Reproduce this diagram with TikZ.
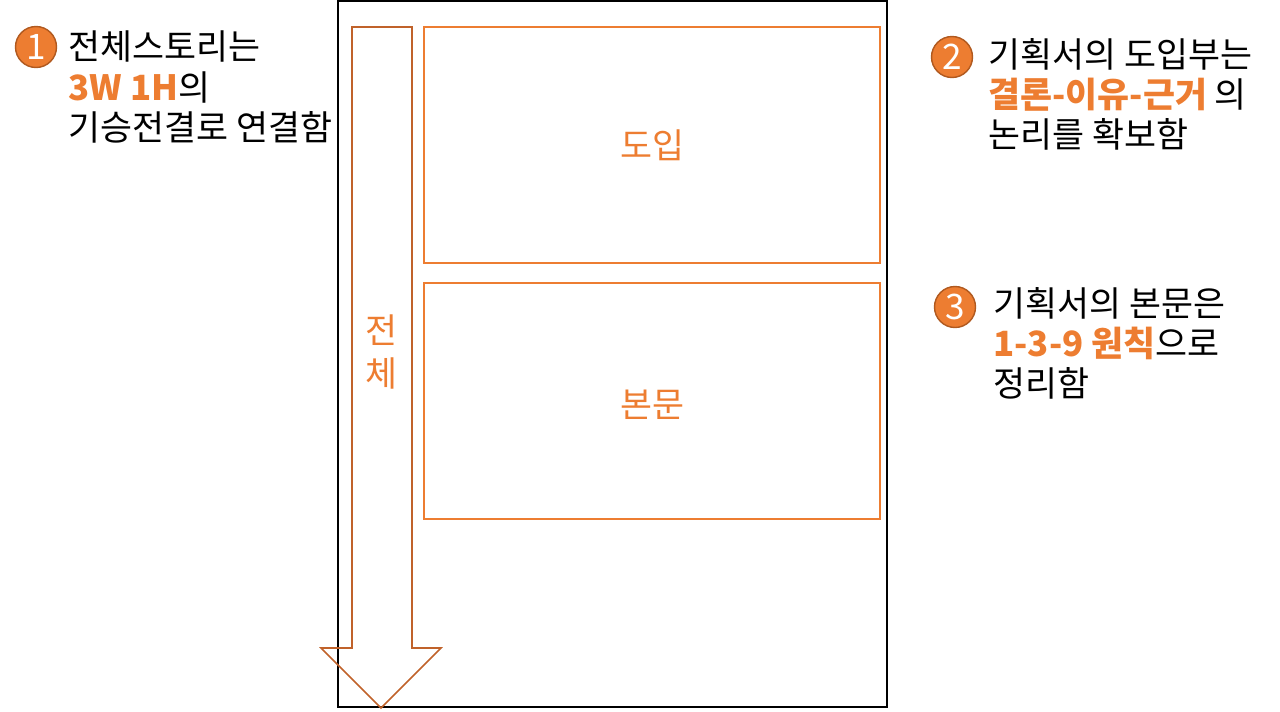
\documentclass[tikz,border=0pt]{standalone}
\usepackage{fontspec}
\setmainfont{Noto Sans CJK KR}
\usepackage{xcolor}
\usetikzlibrary{positioning}
\definecolor{accent}{HTML}{ED7D31}
\definecolor{arrowc}{HTML}{C0622A}
\definecolor{ringc}{HTML}{B0591F}

\begin{document}
\begin{tikzpicture}[
  x=0.02cm, y=-0.02cm,
  every node/.style={inner sep=0pt, font=\fontsize{19.8pt}{22.8pt}\selectfont},
  numball/.style={circle, fill=accent, draw=ringc, line width=0.8pt,
                  minimum size=0.82cm, text=white,
                  font=\fontsize{20pt}{20pt}\selectfont},
  note/.style={anchor=west, align=left, text=black},
  part/.style={draw=accent, line width=0.8pt},
]
\useasboundingbox (0,0) rectangle (1280,711);
% page
\draw[line width=0.9pt] (338,1) rectangle (887,707);
% whole-story arrow
\draw[arrowc, line width=0.9pt]
  (352,27) -- (412,27) -- (412,648) -- (441,648) -- (381,708)
  -- (321,648) -- (352,648) -- cycle;
\node[text=accent, align=center, font=\fontsize{19.8pt}{24pt}\selectfont]
  (whole) at (381,352) {전\\체};
% sections
\draw[part] (424,27) rectangle (880,263);
\draw[part] (424,283) rectangle (880,519);
\node[text=accent] (intro) at (652,145) {도입};
\node[text=accent] (body)  at (652,405) {본문};
% notes
\node[numball] (n1) at (36,47)  {1};
\node[numball] (n2) at (952,57) {2};
\node[numball] (n3) at (955,307) {3};
\node[note] (t1) at (68,87)
  {전체스토리는\\{\color{accent}\bfseries 3W 1H}의\\기승전결로 연결함};
\node[note] (t2) at (988,94)
  {기획서의 도입부는\\{\color{accent}\bfseries 결론-이유-근거} 의\\논리를 확보함};
\node[note] (t3) at (993,343)
  {기획서의 본문은\\{\color{accent}\bfseries 1-3-9 원칙}으로\\정리함};
\end{tikzpicture}
\end{document}
